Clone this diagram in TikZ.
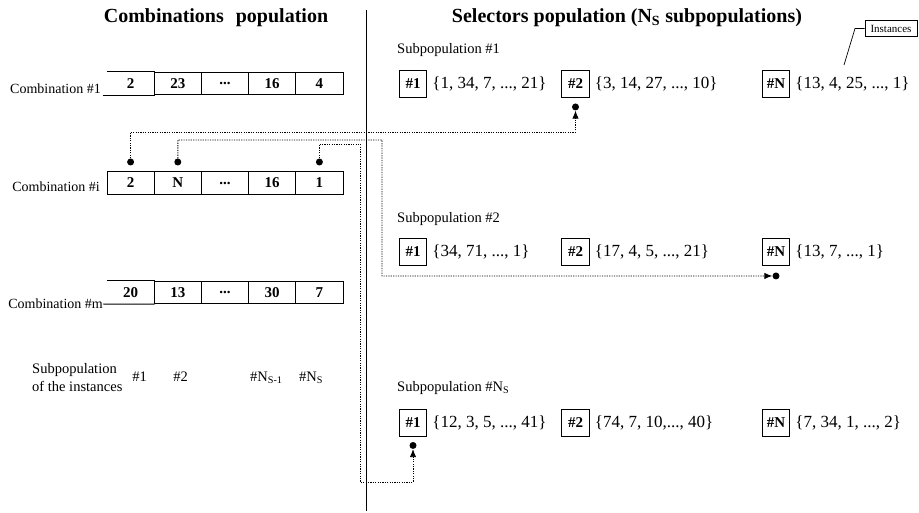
\documentclass[tikz,border=0pt]{standalone}
\usepackage{fontspec}
\setmainfont{Liberation Serif}
\usetikzlibrary{arrows.meta}

\begin{document}
\begin{tikzpicture}[x=1pt,y=-1pt,
  title/.style={font=\fontsize{20}{22}\selectfont\bfseries, inner sep=0pt},
  lbl/.style={font=\fontsize{14}{16}\selectfont, inner sep=0pt},
  cell/.style={draw, line width=0.9pt, minimum width=47.2pt, minimum height=22.5pt,
               inner sep=0pt, font=\fontsize{15}{16}\selectfont\bfseries},
  opencell/.style={cell, draw=none},
  selbox/.style={draw, line width=0.9pt, minimum width=27.5pt, minimum height=27pt,
                 inner sep=0pt, font=\fontsize{15}{16}\selectfont\bfseries},
  settxt/.style={font=\fontsize{17}{19}\selectfont, inner sep=0pt, anchor=west},
  sublbl/.style={inner sep=0pt, anchor=west, font=\fontsize{14.5}{16}\selectfont},
  dot/.style={circle, fill=black, inner sep=0pt, minimum size=7pt},
  link/.style={line width=0.9pt, dash pattern=on 1.2pt off 1.2pt,
               -{Latex[length=8pt,width=6.5pt]}},
  rowline/.style={line width=0.9pt},
]
\useasboundingbox (0,0) rectangle (919,513);

% headings and the separating line
\node[title] (tl) at (216,18) {Combinations\hspace{0.6em}population};
\node[title] (tr) at (627,18) {Selectors population (N\textsubscript{S} subpopulations)};
\coordinate (vtop) at (366,10);
\coordinate (vbot) at (366,511);
\draw[line width=0.9pt] (vtop) -- (vbot);

% ---------------- combinations ----------------
% combination #1
\node[opencell] (r1c1) at (130.6,83.5) {2};
\node[cell] (r1c2) at (177.8,83.5) {23};
\node[cell] (r1c3) at (225.0,83.5) {...};
\node[cell] (r1c4) at (272.2,83.5) {16};
\node[cell] (r1c5) at (319.4,83.5) {4};
\node[lbl, anchor=base east] (l1) at (101,94) {Combination \#1};
\draw[rowline] (r1c1.north west) -- (r1c1.north east);
\draw[rowline] ([xshift=-4pt]r1c1.south west) -- (r1c1.south east);

% combination #i
\node[cell] (ric1) at (130.6,183) {2};
\node[cell] (ric2) at (177.8,183) {N};
\node[cell] (ric3) at (225.0,183) {...};
\node[cell] (ric4) at (272.2,183) {16};
\node[cell] (ric5) at (319.4,183) {1};
\node[lbl, anchor=base east] (li) at (100,192) {Combination \#i};

% combination #m
\node[opencell] (rmc1) at (130.6,292.5) {20};
\node[cell] (rmc2) at (177.8,292.5) {13};
\node[cell] (rmc3) at (225.0,292.5) {...};
\node[cell] (rmc4) at (272.2,292.5) {30};
\node[cell] (rmc5) at (319.4,292.5) {7};
\node[lbl, anchor=east] (lm) at (103,304) {Combination \#m};
\draw[rowline] (rmc1.north west) -- (rmc1.north east);
\draw[rowline] (lm.east) -- (rmc1.south west) -- (rmc1.south east);

% subpopulation of each gene position
\node[lbl, anchor=west, align=left, font=\fontsize{14.5}{18}\selectfont] (lsub) at (32,378)
  {Subpopulation\\of the instances};
\node[lbl, font=\fontsize{14.5}{16}\selectfont] (p1) at (139.5,377) {\#1};
\node[lbl, font=\fontsize{14.5}{16}\selectfont] (p2) at (180.5,377) {\#2};
\node[lbl, anchor=west, font=\fontsize{14.5}{16}\selectfont] (p3) at (250,378) {\#N\textsubscript{S-1}};
\node[lbl, anchor=west, font=\fontsize{14.5}{16}\selectfont] (p4) at (299,378) {\#N\textsubscript{S}};

% ---------------- selectors ----------------
\node[sublbl] (sp1) at (397,50) {Subpopulation \#1};
\node[selbox] (s1b1) at (413,84) {\#1};
\node[settxt] (s1t1) at ([xshift=5pt]s1b1.east) {\{1, 34, 7, ..., 21\}};
\node[selbox] (s1b2) at (575.5,84) {\#2};
\node[settxt] (s1t2) at ([xshift=5pt]s1b2.east) {\{3, 14, 27, ..., 10\}};
\node[selbox] (s1bN) at (776,84) {\#N};
\node[settxt] (s1tN) at ([xshift=5pt]s1bN.east) {\{13, 4, 25, ..., 1\}};

\node[sublbl] (sp2) at (397,219) {Subpopulation \#2};
\node[selbox] (s2b1) at (413,252) {\#1};
\node[settxt] (s2t1) at ([xshift=5pt]s2b1.east) {\{34, 71, ..., 1\}};
\node[selbox] (s2b2) at (575.5,252) {\#2};
\node[settxt] (s2t2) at ([xshift=5pt]s2b2.east) {\{17, 4, 5, ..., 21\}};
\node[selbox] (s2bN) at (776,252) {\#N};
\node[settxt] (s2tN) at ([xshift=5pt]s2bN.east) {\{13, 7, ..., 1\}};

\node[sublbl] (sp3) at (397,388) {Subpopulation \#N\textsubscript{S}};
\node[selbox] (s3b1) at (413,422.5) {\#1};
\node[settxt] (s3t1) at ([xshift=5pt]s3b1.east) {\{12, 3, 5, ..., 41\}};
\node[selbox] (s3b2) at (575.5,422.5) {\#2};
\node[settxt] (s3t2) at ([xshift=5pt]s3b2.east) {\{74, 7, 10,..., 40\}};
\node[selbox] (s3bN) at (776,422.5) {\#N};
\node[settxt] (s3tN) at ([xshift=5pt]s3bN.east) {\{7, 34, 1, ..., 2\}};

% callout for the instance sets
\node[draw, line width=0.7pt, minimum width=52pt, minimum height=16pt, inner sep=0pt,
      font=\fontsize{11}{12}\selectfont] (inst) at (891,28.5) {Instances};
\coordinate (instk) at (855,28.5);
\coordinate (insttip) at (844,65);
\draw[line width=0.7pt] (inst.west) -- (instk) -- (insttip);

% ---------------- links ----------------
\node[dot] (da) at (130.6,162) {};
\node[dot] (db) at (177.8,162) {};
\node[dot] (dc) at (319.4,162) {};
\node[dot] (ta) at ([yshift=-9pt]s1b2.south) {};
\node[dot] (tb) at ([yshift=-10pt]s2bN.south) {};
\node[dot] (tc) at ([yshift=-9pt]s3b1.south) {};

\coordinate (ya) at (0,132);
\coordinate (yb) at (0,140);
\coordinate (yc) at (0,144);
\coordinate (jb) at (382,276);
\coordinate (jc) at (360,482);

\draw[link] (da.north) -- (da.north |- ya) -| (ta.south);
\draw[link] (db.north) -- (db.north |- yb) -| (jb) -- (tb.west);
\draw[link] (dc.north) -- (dc.north |- yc) -| (jc) -| (tc.south);
\end{tikzpicture}
\end{document}
